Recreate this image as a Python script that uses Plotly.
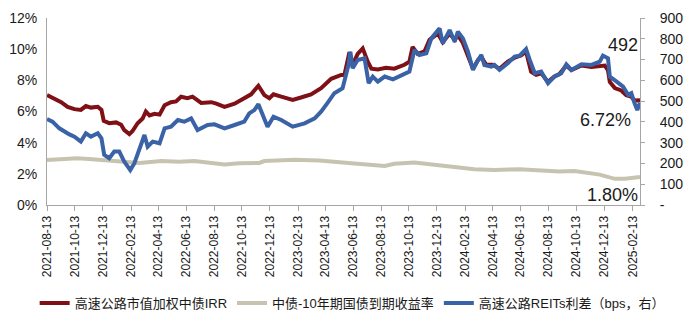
import plotly.graph_objects as go

# 高速公路市值加权中债IRR (%)
irr_dates = [
    "2021-08-13", "2021-08-28", "2021-09-13", "2021-09-27", "2021-10-12", "2021-10-26",
    "2021-11-06", "2021-11-17", "2021-12-02", "2021-12-10", "2021-12-15", "2021-12-27",
    "2022-01-11", "2022-01-22", "2022-01-29", "2022-02-09", "2022-02-16", "2022-02-27",
    "2022-03-10", "2022-03-17", "2022-03-25", "2022-04-05", "2022-04-16", "2022-04-27",
    "2022-05-11", "2022-05-22", "2022-06-02", "2022-06-16", "2022-06-27", "2022-07-16",
    "2022-08-07", "2022-08-18", "2022-09-05", "2022-09-27", "2022-10-18", "2022-11-02",
    "2022-11-18", "2022-12-01", "2022-12-12", "2022-12-21", "2023-01-07", "2023-02-01",
    "2023-02-19", "2023-03-13", "2023-04-04", "2023-04-26", "2023-05-18", "2023-05-25",
    "2023-06-05", "2023-06-12", "2023-06-23", "2023-07-04", "2023-07-15", "2023-07-23",
    "2023-08-06", "2023-08-24", "2023-09-11", "2023-10-03", "2023-10-14", "2023-10-21",
    "2023-11-01", "2023-11-16", "2023-11-27", "2023-12-15", "2023-12-26", "2024-01-10",
    "2024-01-21", "2024-01-28", "2024-02-08", "2024-02-19", "2024-03-01", "2024-03-12",
    "2024-03-19", "2024-03-30", "2024-04-13", "2024-04-28", "2024-05-16", "2024-05-31",
    "2024-06-14", "2024-06-25", "2024-07-06", "2024-07-17", "2024-07-28", "2024-08-12",
    "2024-08-26", "2024-09-06", "2024-09-21", "2024-10-02", "2024-10-24", "2024-11-15",
    "2024-12-06", "2024-12-14", "2024-12-21", "2024-12-25", "2025-01-05", "2025-01-19",
    "2025-01-30", "2025-02-10", "2025-02-17", "2025-03-01",
]
irr_values = [
    7.05, 6.85, 6.60, 6.30, 6.15, 6.10,
    6.35, 6.25, 6.30, 6.10, 5.40, 5.25,
    5.30, 5.15, 4.80, 4.55, 4.75, 5.25,
    5.55, 6.00, 5.75, 5.85, 5.80, 6.40,
    6.60, 6.65, 6.95, 6.85, 6.95, 6.55,
    6.60, 6.50, 6.30, 6.50, 6.85, 7.10,
    7.65, 7.05, 6.85, 7.10, 6.95, 6.75,
    6.90, 7.10, 7.50, 8.10, 8.35, 8.35,
    9.80, 9.00, 9.70, 10.05, 9.20, 8.75,
    8.70, 8.80, 8.75, 9.00, 9.20, 10.15,
    9.70, 9.85, 10.60, 11.00, 10.45, 11.00,
    10.60, 10.90, 10.40, 9.60, 8.75, 9.30,
    9.50, 9.00, 9.00, 8.75, 9.20, 9.45,
    9.60, 9.85, 8.55, 8.35, 8.45, 7.90,
    8.25, 8.40, 8.95, 8.65, 8.95, 8.85,
    8.95, 8.95, 8.65, 7.90, 7.50, 7.35,
    7.05, 6.95, 6.70, 6.72,
]

# 中债-10年期国债到期收益率 (%)
cgb_dates = [
    "2021-08-13", "2021-10-12", "2021-10-18", "2021-11-13", "2021-12-27", "2022-02-11",
    "2022-03-03", "2022-04-20", "2022-05-29", "2022-07-01", "2022-09-05", "2022-10-07",
    "2022-11-20", "2022-12-01", "2023-02-05", "2023-03-31", "2023-05-14", "2023-06-16",
    "2023-08-21", "2023-09-11", "2023-10-25", "2023-12-30", "2024-03-04", "2024-04-17",
    "2024-06-11", "2024-09-06", "2024-10-09", "2024-12-03", "2025-01-05", "2025-01-27",
    "2025-02-17", "2025-03-01",
]
cgb_values = [
    2.89, 2.95, 3.00, 2.95, 2.85, 2.72,
    2.70, 2.82, 2.78, 2.82, 2.60, 2.68,
    2.70, 2.82, 2.90, 2.85, 2.72, 2.67,
    2.50, 2.65, 2.72, 2.50, 2.30, 2.25,
    2.30, 2.15, 2.18, 1.95, 1.68, 1.68,
    1.72, 1.80,
]

# 高速公路REITs利差 (bps, right axis)
spread_dates = [
    "2021-08-13", "2021-08-25", "2021-09-09", "2021-09-20", "2021-10-01", "2021-10-12",
    "2021-10-26", "2021-11-06", "2021-11-17", "2021-12-02", "2021-12-10", "2021-12-16",
    "2021-12-27", "2022-01-07", "2022-01-18", "2022-01-29", "2022-02-11", "2022-02-20",
    "2022-03-03", "2022-03-14", "2022-03-21", "2022-04-01", "2022-04-16", "2022-04-27",
    "2022-05-11", "2022-05-26", "2022-06-09", "2022-06-24", "2022-07-08", "2022-07-30",
    "2022-08-14", "2022-09-05", "2022-09-27", "2022-10-18", "2022-10-29", "2022-11-09",
    "2022-11-18", "2022-11-27", "2022-12-08", "2022-12-21", "2023-01-07", "2023-02-01",
    "2023-02-27", "2023-03-21", "2023-04-04", "2023-04-19", "2023-05-03", "2023-05-21",
    "2023-06-03", "2023-06-07", "2023-06-12", "2023-06-23", "2023-07-08", "2023-07-17",
    "2023-07-26", "2023-08-06", "2023-08-21", "2023-09-08", "2023-09-26", "2023-10-14",
    "2023-10-25", "2023-11-05", "2023-11-20", "2023-12-01", "2023-12-19", "2023-12-26",
    "2024-01-10", "2024-01-21", "2024-01-28", "2024-02-08", "2024-02-19", "2024-03-01",
    "2024-03-08", "2024-03-19", "2024-03-26", "2024-04-10", "2024-04-17", "2024-04-28",
    "2024-05-16", "2024-05-31", "2024-06-11", "2024-06-25", "2024-07-03", "2024-07-14",
    "2024-07-28", "2024-08-12", "2024-08-26", "2024-09-10", "2024-09-21", "2024-10-02",
    "2024-10-24", "2024-11-15", "2024-12-03", "2024-12-10", "2024-12-21", "2024-12-25",
    "2025-01-09", "2025-01-23", "2025-02-03", "2025-02-10", "2025-02-17", "2025-02-23",
    "2025-03-01",
]
spread_values = [
    414, 401, 369, 353, 340, 329,
    305, 345, 329, 345, 321, 241,
    225, 257, 257, 208, 168, 201,
    265, 337, 281, 305, 297, 369,
    377, 409, 401, 417, 361, 385,
    388, 369, 385, 401, 441, 457,
    485, 433, 377, 425, 409, 377,
    393, 417, 449, 494, 538, 562,
    674, 738, 658, 698, 706, 586,
    618, 594, 618, 605, 626, 642,
    746, 722, 730, 802, 850, 778,
    842, 786, 834, 802, 738, 650,
    682, 722, 674, 666, 674, 650,
    682, 714, 719, 751, 698, 634,
    642, 586, 618, 634, 677, 650,
    677, 674, 690, 719, 706, 618,
    594, 570, 530, 538, 490, 457,
    492,
]

# Bottom axis: one tick every two months
tick_dates = [
    "2021-08-13", "2021-10-13", "2021-12-13", "2022-02-13", "2022-04-13", "2022-06-13",
    "2022-08-13", "2022-10-13", "2022-12-13", "2023-02-13", "2023-04-13", "2023-06-13",
    "2023-08-13", "2023-10-13", "2023-12-13", "2024-02-13", "2024-04-13", "2024-06-13",
    "2024-08-13", "2024-10-13", "2024-12-13", "2025-02-13",
]
left_ticks = [0, 2, 4, 6, 8, 10, 12]
left_tick_text = ["0%", "2%", "4%", "6%", "8%", "10%", "12%"]
right_ticks = [0, 100, 200, 300, 400, 500, 600, 700, 800, 900]
right_tick_text = ["-", "100", "200", "300", "400", "500", "600", "700", "800", "900"]

names = ["高速公路市值加权中债IRR", "中债-10年期国债到期收益率", "高速公路REITs利差（bps，右）"]
RED, BEIGE, BLUE = "#7E1016", "#C6C4B0", "#3A62A6"

FONT = "Arial, 'Liberation Sans', 'Noto Sans CJK SC', sans-serif"
AXIS_GRAY = "#A6A6A6"
TEXT = "#1A1A1A"

fig = go.Figure()
fig.add_trace(go.Scatter(x=irr_dates, y=irr_values, name=names[0], mode="lines",
                         line=dict(color=RED, width=4)))
fig.add_trace(go.Scatter(x=cgb_dates, y=cgb_values, name=names[1], mode="lines",
                         line=dict(color=BEIGE, width=4)))
fig.add_trace(go.Scatter(x=spread_dates, y=spread_values, name=names[2], mode="lines",
                         line=dict(color=BLUE, width=4), yaxis="y2"))

# End-of-series value labels
fig.add_annotation(x=spread_dates[-1], y=spread_values[-1], yref="y2",
                   text=f"{spread_values[-1]:.0f}", showarrow=False,
                   xanchor="right", yanchor="middle", xshift=0, yshift=58,
                   font=dict(size=18, color=TEXT, family=FONT))
fig.add_annotation(x=irr_dates[-1], y=irr_values[-1], yref="y",
                   text=f"{irr_values[-1]:.2f}%", showarrow=False,
                   xanchor="right", yanchor="middle", xshift=-7, yshift=-20,
                   font=dict(size=18, color=TEXT, family=FONT))
fig.add_annotation(x=cgb_dates[-1], y=cgb_values[-1], yref="y",
                   text=f"{cgb_values[-1]:.2f}%", showarrow=False,
                   xanchor="right", yanchor="middle", xshift=0, yshift=-18,
                   font=dict(size=18, color=TEXT, family=FONT))

fig.update_layout(
    width=699, height=326,
    margin=dict(l=47, r=59, t=18, b=121, autoexpand=False),
    paper_bgcolor="white", plot_bgcolor="white",
    font=dict(family=FONT, color=TEXT, size=13),
    showlegend=True,
    legend=dict(orientation="h",
                x=1.05, xanchor="right", y=-0.524, yanchor="middle",
                font=dict(size=13, family=FONT, color=TEXT),
                itemwidth=30, tracegroupgap=0, bgcolor="rgba(0,0,0,0)"),
    xaxis=dict(type="date", range=["2021-08-13", "2025-03-01"],
               tickvals=tick_dates, ticktext=tick_dates, tickangle=-90,
               ticks="outside", ticklen=5, tickcolor=AXIS_GRAY,
               showline=True, linecolor=AXIS_GRAY, linewidth=1,
               showgrid=False, zeroline=False,
               tickfont=dict(size=12, family=FONT, color=TEXT)),
    yaxis=dict(range=[0, 12], tickvals=left_ticks, ticktext=left_tick_text,
               showline=True, linecolor=AXIS_GRAY, linewidth=1,
               ticks="", showgrid=False, zeroline=False, ticklabelstandoff=6,
               tickfont=dict(size=14, family=FONT, color=TEXT)),
    yaxis2=dict(range=[0, 900], tickvals=right_ticks, ticktext=right_tick_text,
                overlaying="y", side="right",
                showline=True, linecolor=AXIS_GRAY, linewidth=1,
                ticks="outside", ticklen=4, tickcolor=AXIS_GRAY,
                showgrid=False, zeroline=False, ticklabelstandoff=12,
                tickfont=dict(size=14, family=FONT, color=TEXT)),
)

fig.write_html("out.html")
